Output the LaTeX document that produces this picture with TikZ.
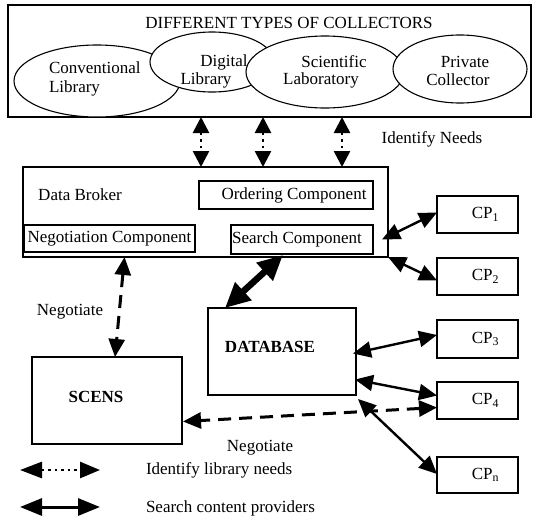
\documentclass[tikz,border=0pt]{standalone}
\usepackage{fontspec}
\setmainfont{Liberation Serif}
\usetikzlibrary{arrows.meta,shapes.geometric,calc}

\begin{document}
\begin{tikzpicture}[x=1pt,y=-1pt,
  every node/.style={font=\fontsize{17}{19}\selectfont, inner sep=0pt, outer sep=0pt},
  box/.style={draw, line width=1.1pt, fill=white},
  coll/.style={draw, ellipse, line width=1.1pt, fill=white, inner sep=0pt},
  bold/.style={font=\fontsize{17}{19}\selectfont\bfseries},
  dotarrow/.style={line width=2.6pt, dash pattern=on 2.6pt off 4pt,
    {Triangle[length=16pt,width=16pt]}-{Triangle[length=16pt,width=16pt]}},
  biarrow/.style={line width=2.4pt,
    {Triangle[length=18pt,width=16pt]}-{Triangle[length=18pt,width=16pt]}},
  bigarrow/.style={line width=6.5pt,
    {Triangle[length=25pt,width=23pt]}-{Triangle[length=25pt,width=23pt]}},
  negarrow/.style={line width=3pt, dash pattern=on 13pt off 8pt,
    {Triangle[length=18pt,width=16pt]}-{Triangle[length=18pt,width=16pt]}},
  legdot/.style={line width=2.8pt, dash pattern=on 2.6pt off 4pt,
    {Triangle[length=22pt,width=16pt]}-{Triangle[length=20pt,width=16pt]}},
  legsolid/.style={line width=3pt,
    {Triangle[length=22pt,width=17pt]}-{Triangle[length=22pt,width=17pt]}}
]
\useasboundingbox (0,0) rectangle (535,520);

% collectors panel
\node[box, minimum width=523pt, minimum height=112pt] (top) at (269.5,61) {};
\node (title) at (289,23) {DIFFERENT TYPES OF COLLECTORS};

\node[coll, minimum width=166pt, minimum height=72pt] (conv) at (97,81) {};
\node[coll, minimum width=124pt, minimum height=60pt] (digi) at (212,62) {};
\node[coll, minimum width=158pt, minimum height=72pt] (scie) at (325,72) {};
\node[coll, minimum width=134pt, minimum height=68pt] (priv) at (460,69) {};

\node[anchor=west] (convA) at (49,68) {Conventional};
\node[anchor=west] (convB) at (49,88) {Library};
\node (digiA) at (224,62) {Digital};
\node (digiB) at (206,80) {Library};
\node (scieA) at (334,62) {Scientific};
\node (scieB) at (321,80) {Laboratory};
\node (privA) at (465,62) {Private};
\node (privB) at (458,80) {Collector};

\node (needs) at (432,139) {Identify Needs};

% data broker and its components
\node[box, minimum width=365pt, minimum height=90pt] (broker) at (205.5,212) {};
\node (brokerlbl) at (80,195) {Data Broker};
\node[box, minimum width=174pt, minimum height=28pt] (order) at (286,195) {\hspace*{16pt}Ordering Component};
\node[box, minimum width=171pt, minimum height=27pt] (nego) at (109.5,238.5) {Negotiation Component};
\node[box, minimum width=142pt, minimum height=29pt] (search) at (302,239.5) {Search Component\hspace*{10pt}};

% database and SCENS
\node[box, minimum width=148pt, minimum height=87pt] (db) at (282,351.5) {};
\node[bold] (dblbl) at (270,347) {DATABASE};
\node[box, minimum width=150pt, minimum height=87pt] (scens) at (107,400.5) {};
\node[bold] (scenslbl) at (96,397) {SCENS};

% content providers
\node[box, minimum width=81pt, minimum height=37pt] (cp1) at (477.5,214.5) {\hspace*{16pt}CP\textsubscript{1}};
\node[box, minimum width=81pt, minimum height=37pt] (cp2) at (477.5,276.5) {\hspace*{16pt}CP\textsubscript{2}};
\node[box, minimum width=81pt, minimum height=38pt] (cp3) at (477.5,339) {\hspace*{16pt}CP\textsubscript{3}};
\node[box, minimum width=81pt, minimum height=37pt] (cp4) at (477.5,400.5) {\hspace*{16pt}CP\textsubscript{4}};
\node[box, minimum width=81pt, minimum height=36pt] (cpn) at (477.5,475) {\hspace*{16pt}CP\textsubscript{n}};

% identify-needs links
\draw[dotarrow] ($(top.south west)+(193,0)$) -- ($(broker.north west)+(178,0)$);
\draw[dotarrow] ($(top.south west)+(255,0)$) -- ($(broker.north west)+(240,0)$);
\draw[dotarrow] ($(top.south west)+(334,0)$) -- ($(broker.north west)+(319,0)$);

% search links
\draw[biarrow] ($(search.east -| broker.east)+(-6,0)$) -- ($(cp1.west)+(0,-2)$);
\draw[biarrow] (broker.south east) -- ($(cp2.west)+(0,4)$);
\draw[biarrow] ($(db.east)+(-3,2)$) -- ($(cp3.west)+(0,-4)$);
\draw[biarrow] ($(db.east)+(-1,28)$) -- ($(cp4.west)+(0,-5)$);
\draw[biarrow] ($(db.south east)+(2,4)$) -- ($(cpn.west)+(0,-1)$);
\draw[bigarrow] ($(search.south)+(-19,1)$) -- ($(db.north west)+(17,0)$);

% negotiation links
\draw[negarrow] ($(nego.south)+(15,5)$) -- ($(scens.north)+(8,0)$);
\draw[negarrow] ($(cp4.west)+(0,7)$) -- ($(scens.east)+(1,21)$);
\node (neg1) at (70,312) {Negotiate};
\node (neg2) at (260,448) {Negotiate};

% legend
\coordinate (la) at (20,470);
\coordinate (lb) at (100,470);
\coordinate (lc) at (20,507);
\coordinate (ld) at (100,507);
\draw[legdot] (la) -- (lb);
\draw[legsolid] (lc) -- (ld);
\node[anchor=west] (leg1) at (146,470) {Identify library needs};
\node[anchor=west] (leg2) at (146,508) {Search content providers};
\end{tikzpicture}
\end{document}
